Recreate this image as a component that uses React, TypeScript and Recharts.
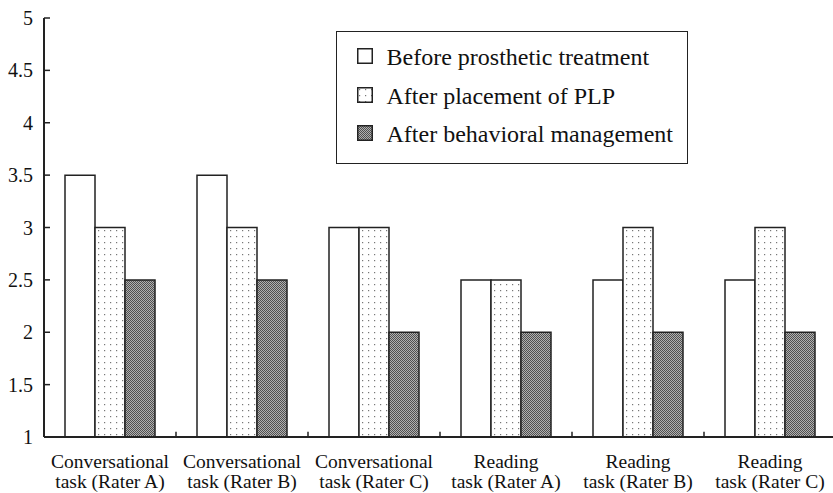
import { BarChart, Bar, XAxis, YAxis, Legend, ReferenceLine } from 'recharts';

const categories = [
  ['Conversational', 'task (Rater A)'],
  ['Conversational', 'task (Rater B)'],
  ['Conversational', 'task (Rater C)'],
  ['Reading', 'task (Rater A)'],
  ['Reading', 'task (Rater B)'],
  ['Reading', 'task (Rater C)'],
];
const beforeTreatment = [3.5, 3.5, 3, 2.5, 2.5, 2.5];
const afterPlp = [3, 3, 3, 2.5, 3, 3];
const afterBehavioral = [2.5, 2.5, 2, 2, 2, 2];
const yTicks = [1, 1.5, 2, 2.5, 3, 3.5, 4, 4.5, 5];
const categoryEdges = [1, 2, 3, 4, 5];

const SERIES = [
  { key: 'before', name: 'Before prosthetic treatment', fill: '#ffffff' },
  { key: 'plp', name: 'After placement of PLP', fill: 'url(#dots)' },
  { key: 'behav', name: 'After behavioral management', fill: 'url(#checker)' },
];

const data = categories.map((c, i) => ({
  idx: i,
  before: beforeTreatment[i],
  plp: afterPlp[i],
  behav: afterBehavioral[i],
}));

const FONT = '"Liberation Serif", "Times New Roman", serif';
const INK = '#222';

function XTick({ x, y, payload }: any) {
  const lines = categories[payload.value] || ['', ''];
  return (
    <text x={x} y={y} textAnchor="middle" fontFamily={FONT} fontSize={19.5} fill="#111">
      <tspan x={x} dy={31}>{lines[0]}</tspan>
      <tspan x={x} dy={20}>{lines[1]}</tspan>
    </text>
  );
}

function LegendBox() {
  return (
    <div style={{
      width: 352, height: 133, border: `1.5px solid ${INK}`, background: '#fff',
      fontFamily: FONT, fontSize: 24, color: '#111', boxSizing: 'border-box',
      padding: '5px 0 0 19.5px', lineHeight: 1,
    }}>
      {SERIES.map((s) => (
        <div key={s.key} style={{ display: 'flex', alignItems: 'center', height: 38.5 }}>
          <svg width={16} height={16} style={{ marginRight: 14, flex: 'none' }}>
            <rect x={0.75} y={0.75} width={14.5} height={14.5} fill={s.fill} stroke={INK} strokeWidth={1.5} />
          </svg>
          <span style={{ whiteSpace: 'nowrap', position: 'relative', top: 1 }}>{s.name}</span>
        </div>
      ))}
    </div>
  );
}

export default function App() {
  return (
    <div style={{ position: 'absolute', left: 0, top: 0, width: 833, height: 493, overflow: 'hidden', background: '#fff' }}>
      <BarChart width={840} height={493} data={data} barGap={0}
        margin={{ top: 18, right: 4, bottom: 0, left: 0 }}>
        <defs>
          <pattern id="dots" width={6} height={6} patternUnits="userSpaceOnUse">
            <rect width={6} height={6} fill="#fff" />
            <rect x={2} y={2} width={1.2} height={1.2} fill="#777" />
          </pattern>
          <pattern id="checker" width={2} height={2} patternUnits="userSpaceOnUse">
            <rect width={2} height={2} fill="#b0b0b0" />
            <rect x={0} y={0} width={1} height={1} fill="#505050" />
            <rect x={1} y={1} width={1} height={1} fill="#505050" />
          </pattern>
        </defs>
        <XAxis dataKey="idx" height={56} tickLine={false} tickSize={0} tickMargin={0}
          axisLine={{ stroke: INK, strokeWidth: 2 }} tick={<XTick />} interval={0} />
        <YAxis domain={[1, 5]} ticks={yTicks} width={44} interval={0}
          tickSize={-6} tickMargin={17}
          tickLine={{ stroke: INK, strokeWidth: 1.5 }}
          axisLine={{ stroke: INK, strokeWidth: 2 }}
          tick={{ fontFamily: FONT, fontSize: 20, fill: '#111' }} />
        <Legend layout="vertical" align="center" verticalAlign="middle"
          wrapperStyle={{ position: 'absolute', left: 336, top: 31, width: 352 }}
          content={() => <LegendBox />} />
        {SERIES.map((s) => (
          <Bar key={s.key} dataKey={s.key} name={s.name} fill={s.fill}
            stroke={INK} strokeWidth={1.5} barSize={30} isAnimationActive={false} />
        ))}
        {categoryEdges.map((k) => (
          <ReferenceLine key={k} position="start" ifOverflow="visible"
            segment={[{ x: k, y: 1 }, { x: k, y: 1.05 }]}
            stroke={INK} strokeWidth={1.5} />
        ))}
      </BarChart>
    </div>
  );
}
